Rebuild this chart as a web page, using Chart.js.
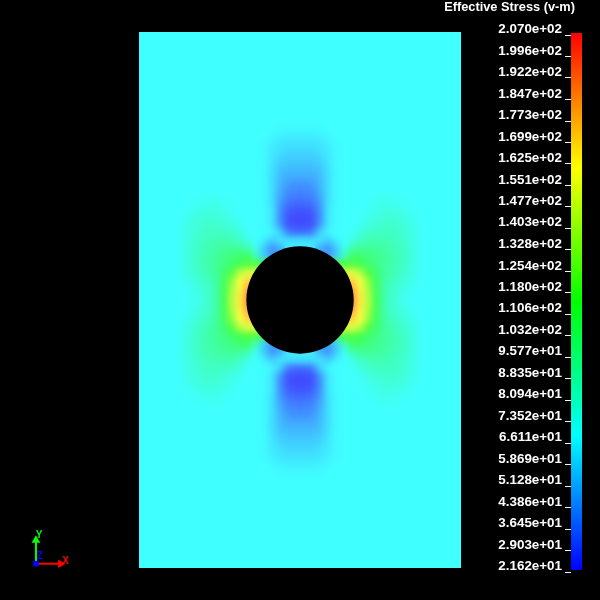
<!DOCTYPE html>
<html>
<head>
<meta charset="utf-8">
<style>
html, body { margin: 0; padding: 0; background: #000; }
canvas { display: block; }
</style>
<script src="https://cdn.jsdelivr.net/npm/chart.js@4"></script>
</head>
<body>
<canvas id="plateChart" width="600" height="600"></canvas>
<script>
// colour bar tick labels, bottom to top
const stressLabels = [
    '2.162e+01', '2.903e+01', '3.645e+01', '4.386e+01', '5.128e+01', '5.869e+01', '6.611e+01',
    '7.352e+01', '8.094e+01', '8.835e+01', '9.577e+01', '1.032e+02', '1.106e+02', '1.180e+02',
    '1.254e+02', '1.328e+02', '1.403e+02', '1.477e+02', '1.551e+02', '1.625e+02', '1.699e+02',
    '1.773e+02', '1.847e+02', '1.922e+02', '1.996e+02', '2.070e+02'
];

const stressMin = 21.62;
const stressMax = 207;
const farFieldStress = 68;

// plate is 6 x 10 with a unit radius hole
const plateHalfWidth = 3;
const plateHalfHeight = 5;
const holeRadius = 1;

const cellSize = 0.15;
const stressRows = [
    [190, 190, 190, 190, 190, 190, 188, 165, 142, 110, 88, 80, 74, 70, 68, 68],
    [185, 185, 185, 185, 185, 185, 182, 162, 138, 108, 88, 81, 76, 72, 69, 68],
    [170, 170, 170, 170, 170, 170, 170, 158, 132, 108, 90, 84, 79, 75, 70, 68],
    [150, 150, 150, 150, 150, 150, 152, 142, 118, 102, 93, 87, 82, 77, 72, 68],
    [110, 110, 110, 110, 110, 118, 118, 110, 104, 98, 93, 88, 83, 78, 72, 68],
    [64, 64, 45, 42, 55, 85, 106, 104, 100, 96, 92, 88, 84, 78, 72, 68],
    [64, 64, 48, 42, 55, 72, 88, 92, 94, 92, 90, 87, 83, 78, 72, 68],
    [60, 60, 62, 56, 64, 68, 74, 82, 86, 87, 86, 84, 81, 77, 72, 68],
    [32, 36, 56, 66, 68, 68, 70, 75, 80, 82, 83, 82, 80, 76, 71, 68],
    [24, 26, 42, 62, 67, 68, 68, 71, 75, 78, 80, 80, 78, 75, 71, 68],
    [24, 26, 40, 62, 67, 68, 68, 69, 72, 75, 77, 78, 76, 73, 70, 68],
    [28, 30, 42, 62, 67, 68, 68, 68, 70, 72, 74, 73, 72, 70, 68, 68],
    [34, 36, 45, 60, 67, 68, 68, 68, 69, 70, 72, 71, 70, 69, 68, 68],
    [38, 40, 48, 60, 67, 68, 68, 68, 68, 68, 69, 69, 68, 68, 68, 68],
    [42, 44, 50, 60, 67],
    [48, 48, 52, 60, 67],
    [52, 52, 54, 61, 67],
    [55, 55, 57, 62, 67],
    [58, 58, 60, 63, 67],
    [61, 61, 62, 64, 67],
    [64, 64, 65, 66, 68],
    [67, 67, 67, 68, 68]
];

const colorbarStops = ['#ff0000', '#ffff00', '#00ff00', '#00ffff', '#0000ff'];

// contour colour: the rainbow ramp lifted by the renderer's ambient light
function stressColor(v) {
    const t = Math.min(1, Math.max(0, (v - stressMin) / (stressMax - stressMin))) * 4;
    let r = 0, g = 0, b = 0;
    if (t < 1) { g = t; b = 1; }
    else if (t < 2) { g = 1; b = 2 - t; }
    else if (t < 3) { r = t - 2; g = 1; }
    else { r = 1; g = 4 - t; }
    const lift = c => Math.round(64 + c * 191);
    return `rgb(${lift(r)},${lift(g)},${lift(b)})`;
}

const fieldCells = [];
stressRows.forEach((row, j) => {
    row.forEach((value, i) => {
        const px = (i + 0.5) * cellSize;
        const py = (j + 0.5) * cellSize;
        [[1, 1], [-1, 1], [1, -1], [-1, -1]].forEach(([sx, sy]) => {
            fieldCells.push({ x: sx * px, y: sy * py, v: value });
        });
    });
});

// soften the coarse cells into a continuous field
const fieldBlur = {
    id: 'fieldBlur',
    afterDatasetDraw(chart, args) {
        if (args.index !== 1) return;
        const { x, y } = chart.scales;
        const left = x.getPixelForValue(-plateHalfWidth);
        const right = x.getPixelForValue(plateHalfWidth);
        const top = y.getPixelForValue(plateHalfHeight);
        const bottom = y.getPixelForValue(-plateHalfHeight);
        const ctx = chart.ctx;
        ctx.save();
        ctx.beginPath();
        ctx.rect(left, top, right - left, bottom - top);
        ctx.clip();
        ctx.filter = 'blur(3px)';
        ctx.drawImage(chart.canvas, left, top, right - left, bottom - top, left, top, right - left, bottom - top);
        ctx.restore();
    }
};

// X, Y, Z letters next to the triad
const triadLetters = {
    id: 'triadLetters',
    afterDraw(chart) {
        const { x, y } = chart.scales;
        const ctx = chart.ctx;
        ctx.save();
        ctx.font = 'bold 10px "Liberation Sans"';
        ctx.textAlign = 'center';
        ctx.textBaseline = 'middle';
        ctx.fillStyle = '#ff0000';
        ctx.fillText('X', x.getPixelForValue(-4.37), y.getPixelForValue(-4.87));
        ctx.fillStyle = '#00ff00';
        ctx.fillText('Y', x.getPixelForValue(-4.86), y.getPixelForValue(-4.38));
        ctx.fillStyle = '#0000ff';
        ctx.fillText('Z', x.getPixelForValue(-4.85), y.getPixelForValue(-4.79));
        ctx.restore();
    }
};

new Chart(document.getElementById('plateChart'), {
    type: 'scatter',
    data: {
        datasets: [
            {
                type: 'bar',
                data: [{ x: 0, y: [-plateHalfHeight, plateHalfHeight] }],
                backgroundColor: stressColor(farFieldStress),
                barThickness: 322,
                grouped: false,
                inflateAmount: 0,
                clip: false,
                order: 5
            },
            {
                data: fieldCells,
                pointStyle: 'rect',
                pointRadius: 6,
                pointBorderWidth: 0,
                pointBackgroundColor: ctx => stressColor(ctx.raw ? ctx.raw.v : farFieldStress),
                clip: false,
                order: 4
            },
            {
                data: [{ x: 0, y: 0 }],
                pointStyle: 'circle',
                pointRadius: ctx => {
                    const x = ctx.chart.scales.x;
                    const r = x ? x.getPixelForValue(holeRadius) - x.getPixelForValue(0) : 0;
                    return Number.isFinite(r) ? r : 0;
                },
                pointBackgroundColor: '#000',
                pointBorderWidth: 0,
                clip: false,
                order: 3
            },
            {
                // colour bar
                type: 'bar',
                yAxisID: 'stress',
                data: [{ x: 5.152, y: [stressMin + 0.69, stressMax + 0.69] }],
                backgroundColor: ctx => {
                    const s = ctx.chart.scales.stress;
                    const y0 = s ? s.getPixelForValue(stressMax) - 2 : NaN;
                    const y1 = s ? s.getPixelForValue(stressMin) - 2 : NaN;
                    if (!Number.isFinite(y0) || !Number.isFinite(y1)) return '#fff';
                    const g = ctx.chart.ctx.createLinearGradient(0, y0, 0, y1);
                    colorbarStops.forEach((c, i) => g.addColorStop(i / (colorbarStops.length - 1), c));
                    return g;
                },
                barThickness: 11,
                grouped: false,
                inflateAmount: 0,
                clip: false,
                order: 2
            },
            {
                // triad, y arrow
                data: [{ x: -4.92, y: -4.92 }, { x: -4.92, y: -4.48 }],
                showLine: true,
                borderColor: '#00ff00',
                borderWidth: 2,
                pointStyle: 'triangle',
                pointRadius: [0, 5],
                pointBackgroundColor: '#00ff00',
                pointBorderWidth: 0,
                clip: false,
                order: 1
            },
            {
                // triad, x arrow
                data: [{ x: -4.92, y: -4.92 }, { x: -4.46, y: -4.92 }],
                showLine: true,
                borderColor: '#ff0000',
                borderWidth: 2,
                pointStyle: 'triangle',
                pointRotation: 90,
                pointRadius: [0, 5],
                pointBackgroundColor: '#ff0000',
                pointBorderWidth: 0,
                clip: false,
                order: 1
            },
            {
                // triad origin
                data: [{ x: -4.92, y: -4.92 }],
                pointStyle: 'rect',
                pointRadius: 4,
                pointBackgroundColor: '#0000ff',
                pointBorderWidth: 0,
                clip: false,
                order: 0
            }
        ]
    },
    options: {
        responsive: false,
        animation: false,
        devicePixelRatio: 1,
        layout: { autoPadding: false, padding: { top: 0, right: 25, bottom: 28, left: 0 } },
        plugins: {
            legend: { display: false },
            tooltip: { enabled: false },
            title: {
                display: true,
                text: 'Effective Stress (v-m)',
                align: 'end',
                color: '#fff',
                font: { family: '"Liberation Sans"', size: 12.8, weight: 'bold', lineHeight: 1.1 },
                padding: { top: 0, bottom: 20.92 }
            }
        },
        scales: {
            // bars would otherwise switch on offset for this axis
            x: { type: 'linear', display: false, offset: false, min: -5.59, max: 5.049 },
            y: { type: 'linear', display: false, min: -5.0746, max: 4.944 },
            stress: {
                type: 'linear',
                position: 'right',
                min: stressMin,
                max: stressMax,
                afterFit: scale => { scale.width = 4; },
                afterBuildTicks: scale => {
                    scale.ticks = stressLabels.map(s => ({ value: parseFloat(s) }));
                },
                border: { display: false },
                grid: {
                    drawOnChartArea: false,
                    tickLength: -6,
                    tickColor: '#fff',
                    tickWidth: 1
                },
                ticks: {
                    autoSkip: false,
                    mirror: true,
                    padding: -9,
                    labelOffset: -5.5,
                    color: '#fff',
                    font: { family: '"Liberation Sans"', size: 13.4, weight: 'bold' },
                    callback: (value, index) => stressLabels[index]
                }
            }
        }
    },
    plugins: [fieldBlur, triadLetters]
});
</script>
</body>
</html>
